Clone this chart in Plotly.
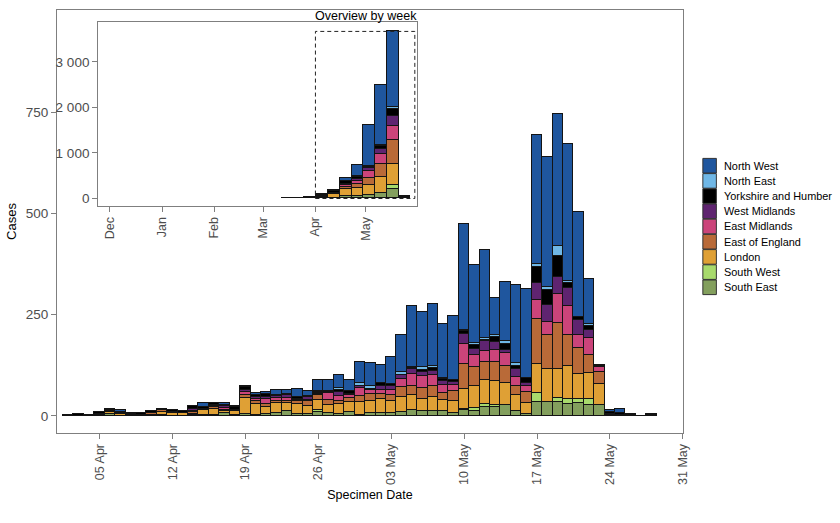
import pandas as pd
import plotly.graph_objects as go

regions = ["South East", "South West", "London", "East of England", "East Midlands",
           "West Midlands", "Yorkshire and Humber", "North East", "North West"]
colors = ["#839f5d", "#a8da6c", "#dfa035", "#b96a38", "#cb447a",
          "#5f2470", "#000000", "#6fb7e6", "#1f569e"]

days = pd.date_range("2020-04-02", "2020-05-28", freq="D")
weeks = pd.date_range("2020-03-15", "2020-05-24", freq="7D")

south_east = [0,0,0,0,5,1,0,1,0,2,1,1,2,3,3,8,2,5,2,5,7,12,5,4,9,7,5,9,2,7,7,7,10,15,13,13,12,7,16,13,23,22,26,12,6,35,34,34,29,31,26,26,0,1,0,0,0]
south_west = [0,0,0,0,0,0,0,0,0,0,0,0,0,0,0,0,0,0,0,0,0,0,0,2,7,0,0,0,0,0,0,0,0,0,0,0,0,0,2,6,7,6,2,1,0,21,0,10,12,10,16,0,0,0,0,0,0]
london = [0,0,0,2,6,5,3,0,3,9,7,6,3,11,15,5,11,40,28,18,26,21,24,19,24,20,25,25,33,29,35,29,36,36,30,33,27,30,49,56,59,58,54,38,26,72,81,72,83,63,63,53,2,0,0,0,1]
east_england = [0,0,0,2,2,2,2,1,4,5,1,1,5,2,3,3,1,7,6,6,5,5,9,13,12,13,8,10,14,18,12,16,25,23,26,28,17,24,61,45,45,47,42,22,26,111,86,114,75,65,45,29,2,1,0,0,2]
east_midlands = [0,0,0,0,2,0,0,0,0,0,0,0,2,1,3,3,0,7,6,13,7,7,2,2,2,16,12,7,19,9,11,11,21,30,30,28,21,15,49,30,26,29,32,24,15,48,31,71,73,30,43,14,0,0,0,0,0]
west_midlands = [0,0,0,0,0,1,0,0,0,0,0,0,5,1,3,5,1,5,4,6,5,7,2,8,2,3,10,4,6,3,10,10,8,12,9,9,10,9,26,16,24,20,7,19,8,41,41,42,43,39,18,1,0,0,0,0,0]
yorkshire = [2,6,2,5,3,2,2,6,5,2,5,4,8,3,5,3,6,7,6,7,2,2,4,2,3,2,4,6,1,1,7,5,2,3,5,7,4,3,7,10,4,12,15,7,12,39,37,53,14,6,11,3,6,6,3,1,1]
north_east = [0,0,0,0,0,0,0,0,0,0,0,0,0,0,0,1,0,1,0,0,0,0,0,0,2,0,6,0,7,7,0,2,7,2,7,5,2,1,1,3,5,7,6,7,1,8,8,23,5,0,5,0,0,0,0,0,0]
north_west = [0,0,0,0,0,3,0,0,0,0,0,0,0,11,1,5,4,3,4,4,11,11,20,11,29,29,31,29,52,57,43,66,92,150,137,153,133,157,263,193,216,90,146,193,219,318,321,326,337,259,111,1,5,10,1,0,0]
daily = [south_east, south_west, london, east_england, east_midlands,
         west_midlands, yorkshire, north_east, north_west]

week_south_east = [0,0,0,15,20,44,51,73,125,213,0]
week_south_west = [0,0,0,0,0,0,0,0,0,73,0]
week_london = [0,0,0,25,75,161,190,220,352,462,0]
week_east_england = [0,0,0,10,15,51,73,147,279,528,0]
week_east_midlands = [0,0,0,0,0,44,73,169,213,308,0]
week_west_midlands = [0,0,0,0,10,25,50,59,110,220,0]
week_yorkshire = [3,10,25,25,50,50,37,29,66,161,40]
week_north_east = [0,0,0,0,0,0,22,22,29,37,0]
week_north_west = [0,0,0,20,13,72,244,886,1311,1670,4]
weekly = [week_south_east, week_south_west, week_london, week_east_england, week_east_midlands,
          week_west_midlands, week_yorkshire, week_north_east, week_north_west]

main_ticks = pd.date_range("2020-04-05", "2020-05-31", freq="7D")
main_y_ticks = [0, 250, 500, 750]
inset_x_ticks = ["2019-12-01", "2020-01-01", "2020-02-01", "2020-03-01", "2020-04-01", "2020-05-01"]
inset_x_labels = ["Dec", "Jan", "Feb", "Mar", "Apr", "May"]
inset_y_ticks = [0, 1000, 2000, 3000]
inset_y_labels = ["0", "1 000", "2 000", "3 000"]
legend_order = ["North West", "North East", "Yorkshire and Humber", "West Midlands", "East Midlands",
                "East of England", "London", "South West", "South East"]

W, H = 832, 523
FONT = "Liberation Sans"
GREY = "#7f7f7f"
TICK = "#4d4d4d"
EDGE = "#141414"

fig = go.Figure()
for name, color, vals in zip(regions, colors, daily):
    fig.add_bar(x=days, y=vals, name=name, marker=dict(color=color, line=dict(color=EDGE, width=1)),
                showlegend=False, xaxis="x", yaxis="y")
for name, color, vals in zip(regions, colors, weekly):
    fig.add_bar(x=weeks, y=vals, name=name, marker=dict(color=color, line=dict(color=EDGE, width=1)),
                showlegend=False, xaxis="x2", yaxis="y2")

axis_common = dict(showgrid=False, zeroline=False, showline=True, mirror=True, linecolor=GREY, linewidth=1,
                   ticks="outside", ticklen=5, tickcolor=GREY)
x_font = dict(size=12.5, color=TICK, family=FONT)
y_font = dict(size=13.5, color=TICK, family=FONT)

fig.update_layout(
    width=840, height=H, autosize=False, margin=dict(l=0, r=0, t=0, b=0),
    paper_bgcolor="white", plot_bgcolor="white", barmode="stack", bargap=0,
    font=dict(family=FONT), showlegend=False,
    xaxis=dict(domain=[57 / W, 682 / W], type="date", range=["2020-03-31 22:00", "2020-05-31"],
               tickvals=main_ticks, tickformat="%d %b", tickangle=-90, anchor="y", tickfont=x_font,
               title=dict(text="Specimen Date", font=dict(size=12.5, color="black", family=FONT), standoff=6),
               **axis_common),
    yaxis=dict(domain=[1 - 433 / H, 1 - 10 / H], range=[-42, 1002], tickvals=main_y_ticks, anchor="x", tickfont=y_font,
               title=dict(text="Cases", font=dict(size=13, color="black", family=FONT), standoff=6),
               **axis_common),
    xaxis2=dict(domain=[98 / W, 416 / W], type="date", range=["2019-11-24", "2020-05-31"], tickfont=x_font,
                tickvals=inset_x_ticks, ticktext=inset_x_labels, tickangle=-90, anchor="y2", **axis_common),
    yaxis2=dict(domain=[1 - 206 / H, 1 - 22 / H], range=[-165, 3879], tickvals=inset_y_ticks, tickfont=y_font,
                ticktext=inset_y_labels, anchor="x2", **axis_common),
)

# dashed zoom box on the overview
fig.add_shape(type="rect", xref="x2", yref="y2", x0="2020-04-01", x1="2020-05-30", y0=0, y1=max(
    sum(v[i] for v in weekly) for i in range(len(weeks))),
    line=dict(color="#222222", width=1, dash="4px,3px"), fillcolor="rgba(0,0,0,0)")
fig.add_annotation(text="Overview by week", xref="paper", yref="paper", x=365.5 / W, y=1 - 16.5 / H,
                   showarrow=False, xanchor="center", yanchor="middle",
                   font=dict(size=12.5, color="black", family=FONT))

# legend
by_name = dict(zip(regions, colors))
for i, name in enumerate(legend_order):
    yc = 165.7 + i * 15.2
    fig.add_shape(type="rect", xref="paper", yref="paper", x0=702 / W, x1=715.5 / W,
                  y0=1 - (yc + 7.3) / H, y1=1 - (yc - 7.3) / H,
                  fillcolor=by_name[name], line=dict(color="#333333", width=1))
    fig.add_annotation(text=name, xref="paper", yref="paper", x=721 / W, y=1 - yc / H, showarrow=False,
                       xanchor="left", yanchor="middle", font=dict(size=10.9, color="black", family=FONT))

fig.write_html("out.html", config={"displayModeBar": False},
               post_script="document.body.style.margin='0';document.documentElement.style.overflow='hidden';")
